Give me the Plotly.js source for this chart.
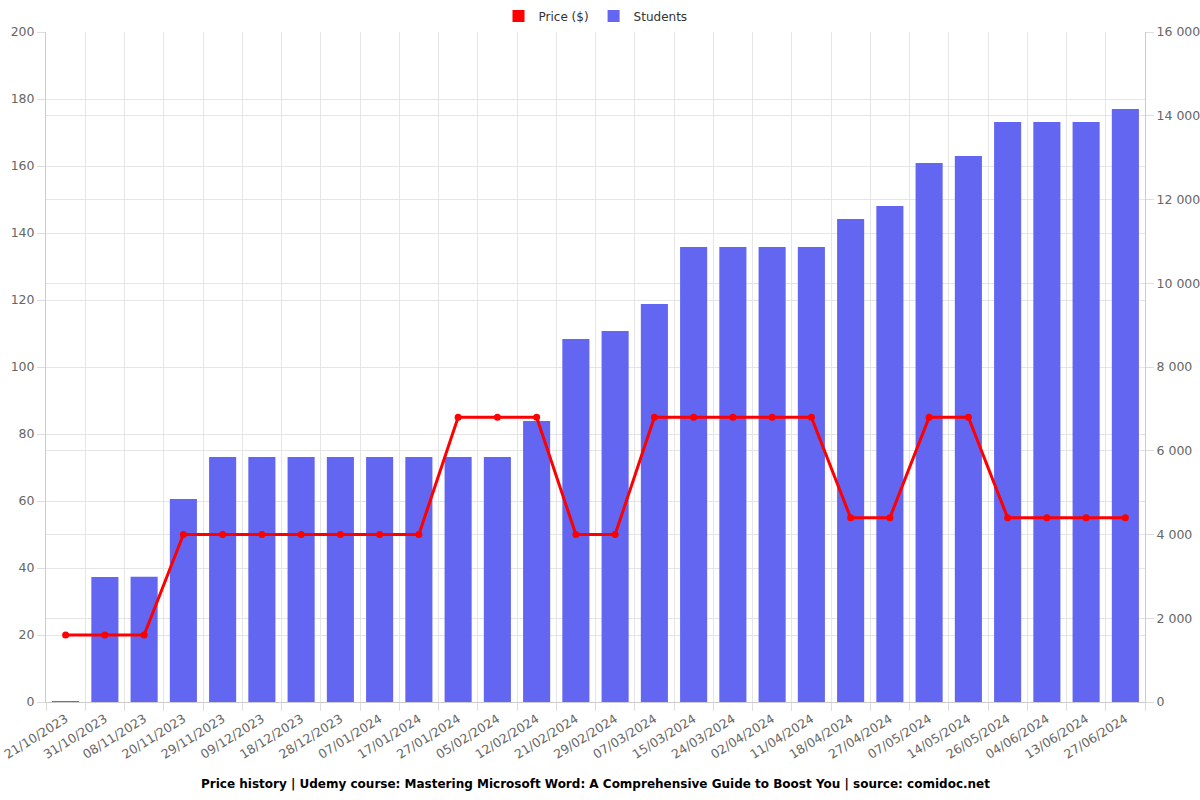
<!DOCTYPE html>
<html>
<head>
<meta charset="utf-8">
<script src="https://cdn.plot.ly/plotly-3.0.1.min.js"></script>
<style>html,body{margin:0;padding:0;background:#fff}#chart{width:1200px;height:800px}</style>
</head>
<body>
<div id="chart"></div>
<script>
const dates = ["21/10/2023","31/10/2023","08/11/2023","20/11/2023","29/11/2023","09/12/2023","18/12/2023","28/12/2023","07/01/2024","17/01/2024","27/01/2024","05/02/2024","12/02/2024","21/02/2024","29/02/2024","07/03/2024","15/03/2024","24/03/2024","02/04/2024","11/04/2024","18/04/2024","27/04/2024","07/05/2024","14/05/2024","26/05/2024","04/06/2024","13/06/2024","27/06/2024"];
const price = [20,20,20,50,50,50,50,50,50,50,85,85,85,50,50,85,85,85,85,85,55,55,85,85,55,55,55,55];
const students = [10,2985,2990,4850,5851,5851,5851,5851,5851,5851,5851,5851,6710,8669,8860,9505,10866,10866,10866,10866,11534,11845,12872,13039,13851,13851,13851,14161];

const red = "#ff0000";
const blue = "#6366f1";
const font = "DejaVu Sans, sans-serif";

const traces = [
  {type:"bar", x:dates, y:students, yaxis:"y", name:"Students",
   marker:{color:blue}, showlegend:false},
  {type:"bar", x:[dates[0]], y:[0], yaxis:"y", name:"Price ($)", marker:{color:red}, showlegend:true, hoverinfo:"skip"},
  {type:"bar", x:[dates[0]], y:[0], yaxis:"y", name:"Students", marker:{color:blue}, showlegend:true, hoverinfo:"skip"},
  {type:"scatter", mode:"lines+markers", x:dates, y:price, yaxis:"y2", name:"Price ($)",
   line:{color:red, width:3}, marker:{color:red, size:7}, showlegend:false}
];

const layout = {
  width:1200, height:800,
  margin:{l:46, r:55, t:32, b:98, autoexpand:false},
  paper_bgcolor:"#fff", plot_bgcolor:"#fff",
  font:{family:font, size:12, color:"#666"},
  separators:". ",
  barmode:"overlay",
  bargap:0.31,
  showlegend:true,
  legend:{orientation:"h", x:0.5, xanchor:"center", y:1.024, yanchor:"middle", font:{size:12, color:"#333"}, traceorder:"normal"},
  xaxis:{type:"category", range:[-0.5, dates.length-0.5], tickson:"boundaries", ticks:"outside", ticklen:8, tickcolor:"#ddd",
    showgrid:true, gridcolor:"#e5e5e5", tickangle:-32, ticklabelstandoff:4, tickfont:{size:12.5, color:"#666"},
    showline:true, linecolor:"#ccc", zeroline:false},
  yaxis:{range:[0,16000], dtick:2000, side:"right", tickformat:",d", ticks:"outside", ticklen:8, tickcolor:"#ddd",
    showgrid:true, gridcolor:"#e5e5e5", showline:true, linecolor:"#ccc", zeroline:false, tickfont:{size:12.5, color:"#666"}},
  yaxis2:{range:[0,200], dtick:20, side:"left", overlaying:"y", ticks:"outside", ticklen:8, tickcolor:"#ddd",
    showgrid:true, gridcolor:"#e5e5e5", showline:true, linecolor:"#ccc", zeroline:false, tickfont:{size:12.5, color:"#666"}},
  annotations:[{text:"<b>Price history | Udemy course: Mastering Microsoft Word: A Comprehensive Guide to Boost You | source: comidoc.net</b>",
    xref:"paper", yref:"paper", x:0.5, y:-0.123, yanchor:"middle", xanchor:"center", showarrow:false,
    font:{size:12, color:"#000", family:font}}]
};

Plotly.newPlot("chart", traces, layout, {displayModeBar:false});
</script>
</body>
</html>
